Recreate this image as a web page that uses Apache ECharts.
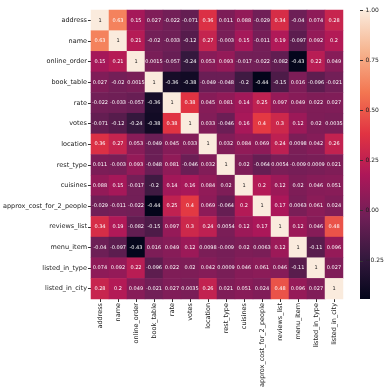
<!DOCTYPE html>
<html><head><meta charset="utf-8">
<script src="https://cdn.jsdelivr.net/npm/echarts@6/dist/echarts.min.js"></script>
<style>html,body{margin:0;padding:0;background:#fff}#c{width:386px;height:392px}</style>
</head><body><div id="c"></div>
<script>
const categories = ["address","name","online_order","book_table","rate","votes","location","rest_type","cuisines","approx_cost_for_2_people","reviews_list","menu_item","listed_in_type","listed_in_city"];
const rowAddress   = [1, 0.63, 0.15, 0.027, -0.022, -0.071, 0.36, 0.011, 0.088, -0.029, 0.34, -0.04, 0.074, 0.28];
const rowName      = [0.63, 1, 0.21, -0.02, -0.033, -0.12, 0.27, -0.003, 0.15, -0.011, 0.19, -0.097, 0.092, 0.2];
const rowOnline    = [0.15, 0.21, 1, 0.0015, -0.057, -0.24, 0.053, 0.093, -0.017, -0.022, -0.082, -0.43, 0.22, 0.049];
const rowBook      = [0.027, -0.02, 0.0015, 1, -0.36, -0.38, -0.049, -0.048, -0.2, -0.44, -0.15, 0.016, -0.096, -0.021];
const rowRate      = [-0.022, -0.033, -0.057, -0.36, 1, 0.38, 0.045, 0.081, 0.14, 0.25, 0.097, 0.049, 0.022, 0.027];
const rowVotes     = [-0.071, -0.12, -0.24, -0.38, 0.38, 1, 0.033, -0.046, 0.16, 0.4, 0.3, 0.12, 0.02, 0.0035];
const rowLocation  = [0.36, 0.27, 0.053, -0.049, 0.045, 0.033, 1, 0.032, 0.084, 0.069, 0.24, 0.0098, 0.042, 0.26];
const rowRestType  = [0.011, -0.003, 0.093, -0.048, 0.081, -0.046, 0.032, 1, 0.02, -0.064, 0.0054, -0.009, 0.0009, 0.021];
const rowCuisines  = [0.088, 0.15, -0.017, -0.2, 0.14, 0.16, 0.084, 0.02, 1, 0.2, 0.12, 0.02, 0.046, 0.051];
const rowCost      = [-0.029, -0.011, -0.022, -0.44, 0.25, 0.4, 0.069, -0.064, 0.2, 1, 0.17, 0.0063, 0.061, 0.024];
const rowReviews   = [0.34, 0.19, -0.082, -0.15, 0.097, 0.3, 0.24, 0.0054, 0.12, 0.17, 1, 0.12, 0.046, 0.48];
const rowMenu      = [-0.04, -0.097, -0.43, 0.016, 0.049, 0.12, 0.0098, -0.009, 0.02, 0.0063, 0.12, 1, -0.11, 0.096];
const rowListType  = [0.074, 0.092, 0.22, -0.096, 0.022, 0.02, 0.042, 0.0009, 0.046, 0.061, 0.046, -0.11, 1, 0.027];
const rowListCity  = [0.28, 0.2, 0.049, -0.021, 0.027, 0.0035, 0.26, 0.021, 0.051, 0.024, 0.48, 0.096, 0.027, 1];
const colorbarTicks = [-0.25, 0, 0.25, 0.5, 0.75, 1];

const rows = [rowAddress,rowName,rowOnline,rowBook,rowRate,rowVotes,rowLocation,rowRestType,rowCuisines,rowCost,rowReviews,rowMenu,rowListType,rowListCity];
const data = [];
rows.forEach((r, yi) => r.forEach((v, xi) => data.push([xi, yi, v])));

const rocket = ['#03051a','#35193e','#701f57','#ad1759','#e13342','#f37651','#f6b48f','#faebdd'];
const vmin = -0.44, vmax = 1;
const font = 'DejaVu Sans';

const chart = echarts.init(document.getElementById('c'), null, {renderer:'canvas'});
chart.setOption({
  backgroundColor: '#fff',
  animation: false,
  grid: [
    {left: 58, top: 10, width: 285, height: 289, containLabel: false},
    {left: 360, top: 10, width: 10, height: 289, containLabel: false}
  ],
  xAxis: [
    {type: 'category', data: categories, gridIndex: 0, position: 'bottom',
     axisLine: {show: false}, splitLine: {show: false},
     axisTick: {show: true, length: 3, alignWithLabel: true, lineStyle: {color: '#333'}},
     axisLabel: {rotate: 90, fontSize: 6.5, color: '#222', fontFamily: font, margin: 4, interval: 0}},
    {type: 'value', gridIndex: 1, show: false, min: 0, max: 1}
  ],
  yAxis: [
    {type: 'category', data: categories, gridIndex: 0, inverse: true,
     axisLine: {show: false}, splitLine: {show: false},
     axisTick: {show: true, length: 3, alignWithLabel: true, lineStyle: {color: '#333'}},
     axisLabel: {fontSize: 6.5, color: '#222', fontFamily: font, margin: 4, interval: 0}},
    {type: 'value', gridIndex: 1, position: 'right', min: vmin, max: vmax,
     axisLine: {show: false}, splitLine: {show: false},
     axisTick: {show: true, length: 3, lineStyle: {color: '#333'}, customValues: colorbarTicks},
     axisLabel: {fontSize: 6, color: '#222', fontFamily: font, margin: 3, customValues: colorbarTicks,
       formatter: v => (v < 0 ? '\u2212' + Math.abs(v).toFixed(2) : v.toFixed(2))}}
  ],
  visualMap: {
    type: 'continuous', min: vmin, max: vmax, show: false, seriesIndex: 0,
    inRange: {color: rocket}
  },
  graphic: [{
    type: 'rect', left: 360, top: 10, silent: true,
    shape: {width: 10, height: 289},
    style: {fill: new echarts.graphic.LinearGradient(0, 1, 0, 0,
      rocket.map((c, i) => ({offset: i / (rocket.length - 1), color: c})))}
  }],
  series: [{
    type: 'heatmap', xAxisIndex: 0, yAxisIndex: 0, data: data,
    itemStyle: {borderWidth: 0},
    label: {show: true, fontSize: 5, fontFamily: font,
      formatter: p => String(p.value[2]),
      color: '#fff',
      rich: {}},
    emphasis: {disabled: true}
  }]
});
// diagonal labels dark
const opt = chart.getOption();
const d2 = data.map(d => d[2] === 1 ? {value: d, label: {color: '#222'}} : d);
chart.setOption({series: [{data: d2}]});
</script></body></html>
